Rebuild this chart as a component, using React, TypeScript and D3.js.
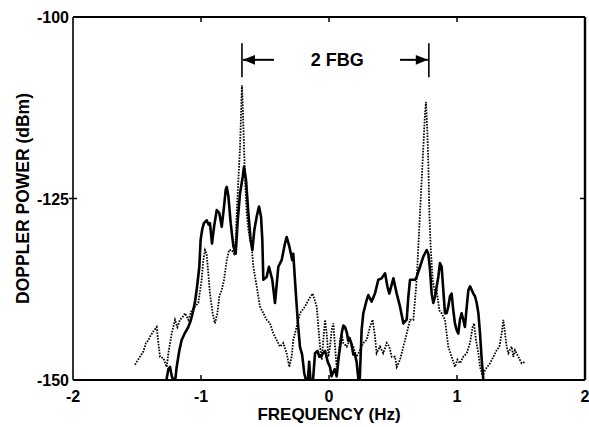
import React from "react";
import * as d3 from "d3";

// solid trace (frequency Hz, power dBm)
const solidFreq = [
  -1.27, -1.255, -1.242, -1.228, -1.216, -1.2, -1.19, -1.17, -1.151, -1.125, -1.099, -1.08, -1.06, -1.045,
  -1.034, -1.02, -1.013, -1.003, -0.99, -0.977, -0.956, -0.94, -0.93, -0.914, -0.898, -0.877, -0.857,
  -0.838, -0.82, -0.807, -0.799, -0.786, -0.768, -0.747, -0.729, -0.713, -0.695, -0.674, -0.664, -0.648,
  -0.63, -0.612, -0.599, -0.583, -0.565, -0.547, -0.531, -0.521, -0.513, -0.5, -0.487, -0.469, -0.443,
  -0.422, -0.396, -0.37, -0.344, -0.331, -0.31, -0.287, -0.279, -0.266, -0.245, -0.227, -0.21, -0.193,
  -0.18, -0.165, -0.155, -0.145, -0.125, -0.109, -0.09, -0.075, -0.057, -0.047, -0.03, -0.01, 0.008,
  0.02, 0.03, 0.045, 0.06, 0.075, 0.09, 0.1, 0.112, 0.125, 0.14, 0.15, 0.16, 0.175, 0.19, 0.2, 0.216,
  0.23, 0.24, 0.255, 0.268, 0.294, 0.307, 0.333, 0.359, 0.385, 0.411, 0.438, 0.456, 0.471, 0.503, 0.529,
  0.555, 0.581, 0.607, 0.62, 0.633, 0.672, 0.685, 0.711, 0.737, 0.763, 0.776, 0.789, 0.802, 0.815, 0.828,
  0.854, 0.867, 0.88, 0.893, 0.906, 0.919, 0.932, 0.945, 0.958, 0.971, 0.984, 0.997, 1.01, 1.023, 1.036,
  1.049, 1.062, 1.076, 1.089, 1.102, 1.128, 1.141, 1.154, 1.167, 1.18, 1.193, 1.206,
];
const solidPower = [
  -150, -148.5, -148.2, -149.5, -150, -149.8, -148.2, -146, -144.5, -143.5, -142.7, -141.8, -140.4, -139,
  -137.6, -135.5, -134.4, -130.7, -129.2, -128.4, -128, -128.6, -128.4, -131.2, -128.9, -126.6, -127,
  -128.9, -126.1, -123.8, -123.4, -124.7, -128.4, -131.6, -132.6, -128, -124.3, -122, -120.6, -122.5,
  -127, -130.7, -132.1, -129.3, -127.5, -126.1, -127.5, -130.7, -136.2, -136, -135.8, -134.4, -136.2,
  -139.4, -134.4, -133.5, -131.2, -130.3, -131.6, -133.5, -132.6, -136.2, -141.7, -145.4, -146.5, -149.1,
  -150, -150, -147.5, -150, -150, -146.3, -146, -146.8, -146.6, -146.3, -146, -147.5, -148.2,
  -149.5, -149, -148.5, -149.5, -147, -145, -143.5, -142.5, -142.7, -143.5, -144.6, -144.2, -145, -146.5, -146.3, -147.5,
  -150, -150, -143.1, -140.8, -139, -138.3, -139.2, -138.1, -136.2, -136, -135.3, -137.1, -138.1, -136, -138.1,
  -139.9, -142.2, -141.7, -138.5, -136.2, -136.2, -135.8, -134.4, -133, -132.1, -132.6, -134.8, -138.1, -139.4, -138.5,
  -135.8, -133.9, -134.4, -137.6, -140.8, -140.8, -139.9, -138.5, -138.1, -140.4, -142.2, -143.1, -143.6, -141.7, -140.8,
  -141.7, -142.7, -139.9, -137.6, -137.1, -138.1, -138.5, -139.4, -140.8, -143.6, -147.2, -150,
];

// dotted trace
const dottedFreq = [
  -1.516, -1.477, -1.451, -1.43, -1.411, -1.398, -1.372, -1.346, -1.333, -1.32, -1.294, -1.268, -1.255,
  -1.229, -1.203, -1.185, -1.164, -1.143, -1.125, -1.099, -1.073, -1.047, -1.021, -0.995, -0.982, -0.969,
  -0.956, -0.943, -0.93, -0.909, -0.891, -0.872, -0.857, -0.838, -0.82, -0.799, -0.781, -0.76, -0.742,
  -0.729, -0.721, -0.708, -0.695, -0.687, -0.68, -0.672, -0.664, -0.656, -0.643, -0.63, -0.617, -0.604,
  -0.591, -0.565, -0.539, -0.513, -0.487, -0.461, -0.435, -0.409, -0.383, -0.357, -0.331, -0.31, -0.292,
  -0.279, -0.253, -0.227, -0.188, -0.161, -0.143, -0.128, -0.096, -0.083, -0.07, -0.057, -0.044, -0.031,
  -0.018, -0.005, 0.008, 0.021, 0.034, 0.047, 0.06, 0.073, 0.086, 0.099, 0.112, 0.138, 0.164, 0.19, 0.216,
  0.242, 0.268, 0.294, 0.32, 0.341, 0.359, 0.372, 0.398, 0.424, 0.451, 0.471, 0.49, 0.516, 0.529, 0.555,
  0.581, 0.607, 0.633, 0.659, 0.672, 0.685, 0.698, 0.711, 0.724, 0.737, 0.75, 0.758, 0.768, 0.776, 0.784,
  0.794, 0.81, 0.828, 0.841, 0.862, 0.88, 0.906, 0.932, 0.958, 0.984, 1.003, 1.023, 1.049, 1.076, 1.102,
  1.122, 1.133, 1.148, 1.167, 1.18, 1.201, 1.219, 1.258, 1.284, 1.31, 1.331, 1.349, 1.362, 1.375, 1.388,
  1.401, 1.427, 1.44, 1.453, 1.479, 1.505, 1.531,
];
const dottedPower = [
  -147.9, -146.8, -146.1, -144.9, -144.5, -144, -143.3, -142.7, -144.9, -146.8, -147, -148.2, -146.3,
  -143.6, -141.7, -142.7, -141.7, -141.3, -140.8, -141.7, -140.4, -139.9, -139.4, -136.2, -133.5, -132.1,
  -132.6, -135.3, -138.1, -140.8, -142.2, -140.8, -138.5, -137.6, -136.2, -133.5, -132.1, -132.1, -132.6,
  -130.7, -127, -122.5, -117.9, -113.3, -109.4, -113.3, -117.9, -122.5, -127, -129.3, -130.7, -131.6,
  -134.4, -137.1, -139.9, -140.8, -141.7, -142.2, -143.6, -144.5, -145.4, -144.9, -146.3, -148.2, -146.8,
  -144.5, -142.7, -140.8, -139.9, -139, -138.5, -138.1, -139.9, -142.7, -145.4, -147.2, -144.5, -141.7,
  -143.6, -146.8, -145.4, -143.1, -142.2, -145.4, -148.2, -146.8, -144.5, -143.6, -144.9, -145.4, -144.5, -145.4, -146.8,
  -145.9, -144.9, -144.5, -142.7, -141.7, -144, -146.3, -145.4, -146.3, -144.9, -145.4, -146.8, -146.8, -148.2, -147.2,
  -145.4, -143.6, -141.7, -141.7, -139, -136.2, -131.6, -127, -122.5, -117.9, -113.3, -111.7, -115.6, -120.2, -127,
  -131.6, -136.2, -138.1, -137.6, -140.4, -140.8, -141.7, -145.4, -146.8, -148.2, -147.2, -147.7, -146.8, -146.3, -144.9,
  -142.7, -142.2, -144.5, -146.3, -148.2, -149.5, -148.6, -147.7, -146.8, -145.9, -145.4, -143.6, -141.7, -143.6, -145.4,
  -146.3, -145.4, -146.8, -145.9, -146.8, -147.7, -147.5,
];

const xTicks = [-2, -1, 0, 1, 2];
const yTicks = [-150, -125, -100];
const fbgSpan = [-0.68, 0.78];
const fbgLabel = "2 FBG";

const W = 589;
const H = 427;
const m = { top: 17, right: 4, bottom: 47, left: 73 };

export default function App() {
  const x = d3.scaleLinear().domain([-2, 2]).range([m.left, W - m.right]);
  const y = d3.scaleLinear().domain([-150, -100]).range([H - m.bottom, m.top]);
  const line = d3
    .line<[number, number]>()
    .x((d) => x(d[0]))
    .y((d) => y(Math.max(-150, d[1])));
  const solid = solidFreq.map((f, i) => [f, solidPower[i]] as [number, number]);
  const dotted = dottedFreq.map((f, i) => [f, dottedPower[i]] as [number, number]);

  const x0 = x(-2), x1 = x(2), y0 = y(-150), y1 = y(-100);
  const font = "Arimo, 'Liberation Sans', Arial, Helvetica, sans-serif";
  const barTop = y(-103.6), barBot = y(-108.3), arrowY = y(-105.9);
  const aL = x(fbgSpan[0]), aR = x(fbgSpan[1]);

  return (
    <svg
      width={W}
      height={H}
      style={{ position: "absolute", left: 0, top: 0, background: "#fff" }}
      fontFamily={font}
      fontWeight="bold"
    >
      <clipPath id="plot">
        <rect x={x0} y={y1 - 2} width={x1 - x0} height={y0 - y1 + 2} />
      </clipPath>
      <g clipPath="url(#plot)" fill="none" stroke="#000">
        <path d={line(dotted) || ""} strokeWidth={1.8} strokeDasharray="1.6 1.3" />
        <path d={line(solid) || ""} strokeWidth={2.6} strokeLinejoin="round" />
      </g>

      {/* frame */}
      <g stroke="#000" fill="none">
        <line x1={x0} x2={x1} y1={y0} y2={y0} strokeWidth={2.2} />
        <line x1={x0} x2={x1} y1={y1} y2={y1} strokeWidth={2} />
        <line x1={x0} x2={x0} y1={y1} y2={y0} strokeWidth={1.6} />
        <line x1={x1} x2={x1} y1={y1} y2={y0} strokeWidth={2.4} />
        {xTicks.slice(1, -1).map((t) => (
          <g key={t}>
            <line x1={x(t)} x2={x(t)} y1={y0} y2={y0 - 5} strokeWidth={1.5} />
            <line x1={x(t)} x2={x(t)} y1={y1} y2={y1 + 5} strokeWidth={1.5} />
          </g>
        ))}
        {yTicks.slice(1, -1).map((t) => (
          <g key={t}>
            <line x1={x0 - 4} x2={x0 + 4} y1={y(t)} y2={y(t)} strokeWidth={1.5} />
            <line x1={x1} x2={x1 - 5} y1={y(t)} y2={y(t)} strokeWidth={1.5} />
          </g>
        ))}
      </g>

      {/* tick labels */}
      <g fontSize={16} fill="#000">
        {xTicks.map((t) => (
          <text key={t} x={x(t)} y={y0 + 22} textAnchor="middle">
            {t < 0 ? "-" + Math.abs(t) : t}
          </text>
        ))}
        {yTicks.map((t) => (
          <text key={t} x={x0 - 4} y={y(t) + 6} textAnchor="end">
            {"-" + Math.abs(t)}
          </text>
        ))}
      </g>

      <text x={x(0)} y={H - 7} fontSize={17} textAnchor="middle">
        FREQUENCY (Hz)
      </text>
      <text
        transform={`translate(29,${(y0 + y1) / 2}) rotate(-90)`}
        fontSize={17.5}
        textAnchor="middle"
      >
        DOPPLER POWER (dBm)
      </text>

      {/* 2 FBG annotation */}
      <defs>
        <marker id="ah" viewBox="0 0 10 10" refX="10" refY="5" markerWidth="7" markerHeight="6" orient="auto">
          <path d="M0,1 L10,5 L0,9 z" fill="#000" />
        </marker>
      </defs>
      <g stroke="#000">
        <line x1={aL} x2={aL} y1={barTop} y2={barBot} strokeWidth={1.6} />
        <line x1={aR} x2={aR} y1={barTop} y2={barBot} strokeWidth={1.6} />
        <line x1={x(-0.43)} x2={aL + 1} y1={arrowY} y2={arrowY} strokeWidth={2} markerEnd="url(#ah)" />
        <line x1={x(0.555)} x2={aR - 1} y1={arrowY} y2={arrowY} strokeWidth={2} markerEnd="url(#ah)" />
      </g>
      <text x={x(0.065)} y={arrowY + 6.5} fontSize={18} textAnchor="middle">
        {fbgLabel}
      </text>
    </svg>
  );
}
